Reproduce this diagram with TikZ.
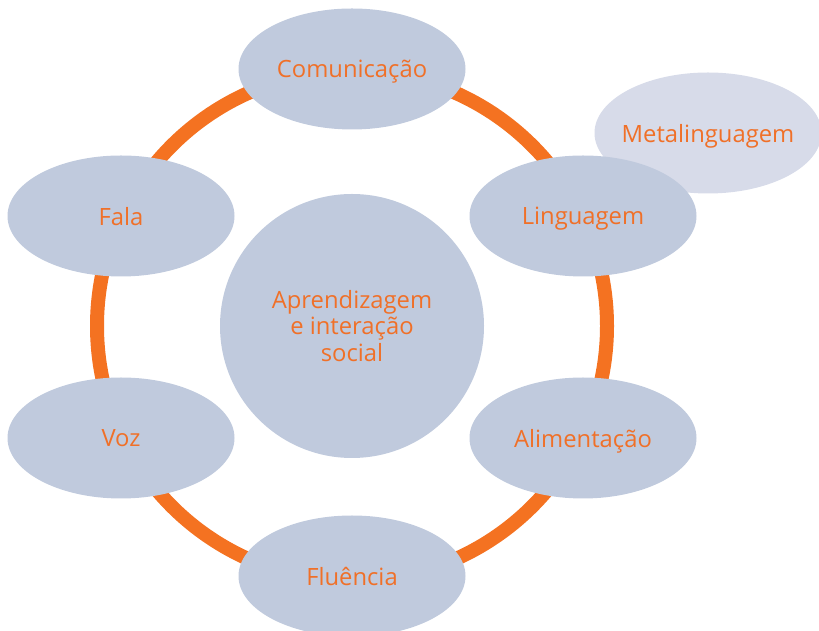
\documentclass[tikz,border=0pt]{standalone}
\usepackage{fontspec}
\setmainfont{Open Sans}
\usetikzlibrary{shapes.geometric}
\definecolor{ringor}{HTML}{F47221}
\definecolor{txtor}{HTML}{F07028}
\definecolor{bub}{HTML}{C0CADD}
\definecolor{bublight}{HTML}{D7DBE9}
\tikzset{
  bubble/.style={ellipse, fill=bub, inner xsep=-20pt, inner ysep=0pt, minimum width=227pt, minimum height=121pt, text=txtor, text depth=0pt, font=\fontsize{23.8}{28}\selectfont},
  lightbubble/.style={bubble, fill=bublight},
  hub/.style={circle, fill=bub, inner sep=0pt, minimum size=264pt, text=txtor, align=center, font=\fontsize{23.8}{26.5}\selectfont},
  ring/.style={draw=ringor, line width=14pt}
}
\begin{document}
\begin{tikzpicture}[x=1pt,y=1pt]
\useasboundingbox (0,0) rectangle (819,631);
\coordinate (c) at (352,305);
\draw[ring] (c) circle[radius=255];
\node[hub] (hubn) at (c) {Aprendizagem\\e interação\\social};
\node[lightbubble] (meta) at (708,498) {Metalinguagem};
\node[bubble] (com) at (352,562) {Comunicação};
\node[bubble] (fala) at (121,415) {Fala};
\node[bubble] (ling) at (583,415) {Linguagem};
\node[bubble] (voz) at (121,193) {Voz};
\node[bubble] (alim) at (583,193) {Alimentação};
\node[bubble] (flu) at (352,55) {Fluência};
\end{tikzpicture}
\end{document}
